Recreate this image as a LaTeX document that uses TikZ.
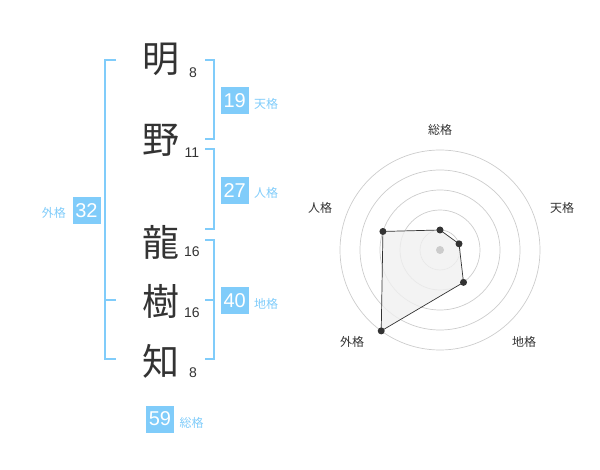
\documentclass[tikz,border=0pt]{standalone}
\usepackage{fontspec}
\usetikzlibrary{calc}
\setmainfont{Noto Sans CJK JP}
\newfontfamily\numfont{Liberation Sans}
\definecolor{kblue}{HTML}{80CCFA}
\definecolor{ktext}{HTML}{333333}
\definecolor{kgrid}{HTML}{CCCCCC}
\definecolor{kfill}{HTML}{F0F0F0}
\begin{document}
\begin{tikzpicture}[x=1pt,y=-1pt,
  kanji/.style={font=\fontsize{37}{37}\selectfont, text=ktext, inner sep=0pt},
  strokes/.style={font=\numfont\fontsize{14}{14}\selectfont, text=ktext, inner sep=0pt},
  valbox/.style={fill=kblue, text=white, minimum width=28pt, minimum height=27pt, inner sep=0pt, font=\numfont\fontsize{20}{20}\selectfont},
  vallabel/.style={text=kblue, font=\fontsize{12}{12}\selectfont, inner sep=0pt},
  brk/.style={draw=kblue, line width=1.6pt},
  grid/.style={draw=kgrid, line width=0.7pt},
  axlabel/.style={text=ktext, font=\fontsize{12}{12}\selectfont, inner sep=0pt},
  pt/.style={circle, fill=ktext, inner sep=0pt, minimum size=7pt}
]
\useasboundingbox (0,0) rectangle (600,470);
% characters
\node[kanji] (c1) at (161,59) {明};
\node[kanji] (c2) at (161,140) {野};
\node[kanji] (c3) at (161,242) {龍};
\node[kanji] (c4) at (161,301) {樹};
\node[kanji] (c5) at (161,361) {知};
\node[strokes] (s1) at (193,73) {8};
\node[strokes] (s2) at (192,153) {11};
\node[strokes] (s3) at (192,252) {16};
\node[strokes] (s4) at (192,313) {16};
\node[strokes] (s5) at (193,373) {8};
% brackets
\coordinate (bl1) at (116,60); \coordinate (bl2) at (105,60);
\coordinate (bl3) at (105,359); \coordinate (bl4) at (116,359);
\coordinate (bl5) at (105,300); \coordinate (bl6) at (116,300);
\draw[brk] (bl1) -- (bl2) -- (bl3) -- (bl4);
\draw[brk] (bl5) -- (bl6);
\coordinate (t1) at (205,60); \coordinate (t2) at (214,60);
\coordinate (t3) at (214,139); \coordinate (t4) at (205,139);
\draw[brk] (t1) -- (t2) -- (t3) -- (t4);
\coordinate (j1) at (205,149); \coordinate (j2) at (214,149);
\coordinate (j3) at (214,229); \coordinate (j4) at (205,229);
\draw[brk] (j1) -- (j2) -- (j3) -- (j4);
\coordinate (g1) at (205,240); \coordinate (g2) at (214,240);
\coordinate (g3) at (214,359); \coordinate (g4) at (205,359);
\coordinate (g5) at (205,300); \coordinate (g6) at (214,300);
\draw[brk] (g1) -- (g2) -- (g3) -- (g4);
\draw[brk] (g5) -- (g6);
% value boxes
\node[valbox] (v19) at (234.7,100.3) {19};
\node[vallabel, anchor=west] (l19) at (254,104) {天格};
\node[valbox] (v27) at (234.7,190.3) {27};
\node[vallabel, anchor=west] (l27) at (254,193) {人格};
\node[valbox] (v32) at (86.5,210.3) {32};
\node[vallabel, anchor=east] (l32) at (66,213) {外格};
\node[valbox] (v40) at (234.7,300.5) {40};
\node[vallabel, anchor=west] (l40) at (254,304) {地格};
\node[valbox] (v59) at (160,419) {59};
\node[vallabel, anchor=west] (l59) at (179.5,422.7) {総格};
% radar
\coordinate (rc) at (440,250);
\foreach \r in {20,40,60,80,100} \draw[grid] (rc) circle[radius=\r];
\coordinate (q1) at ($(rc)+(-90:20)$);
\coordinate (q2) at ($(rc)+(-18:20)$);
\coordinate (q3) at ($(rc)+(54:40)$);
\coordinate (q4) at ($(rc)+(126:100)$);
\coordinate (q5) at ($(rc)+(-162:60)$);
\fill[kfill, opacity=0.8] (q1) -- (q2) -- (q3) -- (q4) -- (q5) -- cycle;
\draw[ktext, line width=0.7pt] (q1) -- (q2) -- (q3) -- (q4) -- (q5) -- cycle;
\node[circle, fill=kgrid, inner sep=0pt, minimum size=8pt] (ctr) at (rc) {};
\foreach \q in {q1,q2,q3,q4,q5} \node[pt] at (\q) {};
\node[axlabel] (a1) at (440,130) {総格};
\node[axlabel] (a2) at (562,208) {天格};
\node[axlabel] (a3) at (524,342) {地格};
\node[axlabel] (a4) at (352,342) {外格};
\node[axlabel] (a5) at (320,208) {人格};
\end{tikzpicture}
\end{document}
